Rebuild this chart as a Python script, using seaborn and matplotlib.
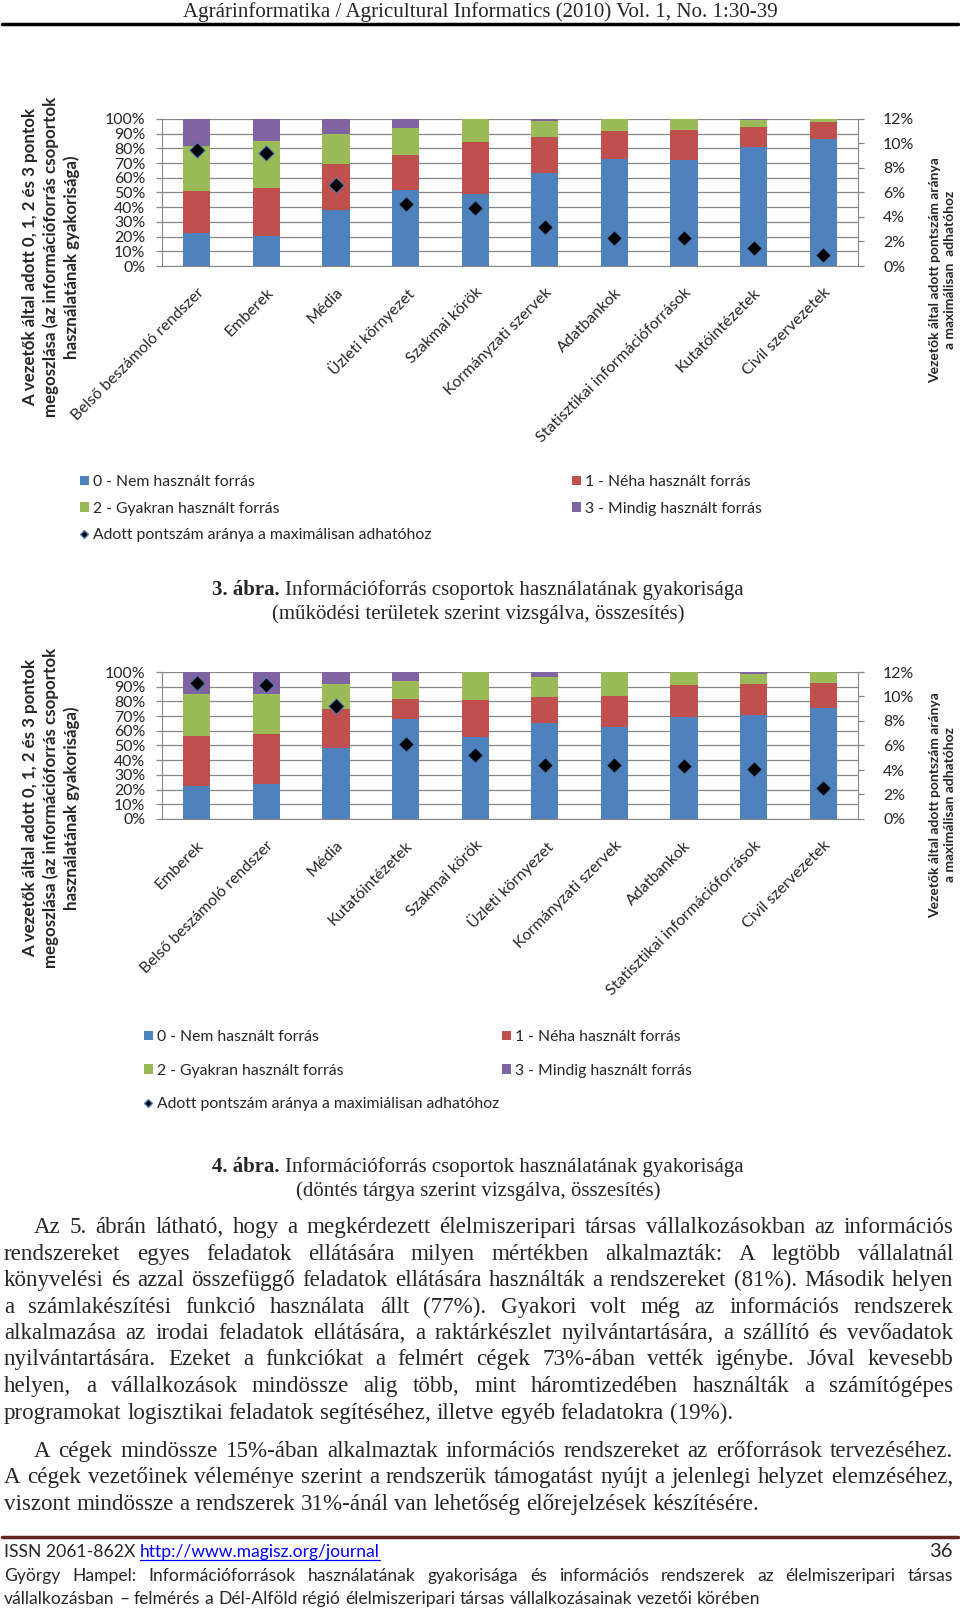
import numpy as np
import pandas as pd
import matplotlib
matplotlib.use('Agg')
import matplotlib.pyplot as plt
import seaborn as sns
from matplotlib.transforms import Affine2D
from matplotlib.patches import Patch
from matplotlib.lines import Line2D

# 3. ábra - működési területek szerint
cats1 = ['Belső beszámoló rendszer', 'Emberek', 'Média', 'Üzleti környezet', 'Szakmai körök',
         'Kormányzati szervek', 'Adatbankok', 'Statisztikai információforrások',
         'Kutatóintézetek', 'Civil szervezetek']
nem1 = [22.7, 20.5, 38.2, 51.8, 49.0, 63.6, 72.7, 72.3, 80.7, 86.4]
neha1 = [28.0, 32.5, 31.3, 23.4, 35.3, 24.1, 18.9, 20.4, 13.8, 11.8]
gyakran1 = [30.7, 32.2, 20.3, 18.7, 15.7, 10.7, 8.4, 7.3, 4.5, 1.8]
mindig1 = [18.6, 14.8, 10.2, 6.1, 0.0, 1.6, 0.0, 0.0, 1.0, 0.0]
pont1 = [9.5, 9.2, 6.6, 5.1, 4.7, 3.2, 2.3, 2.25, 1.5, 0.9]

# 4. ábra - döntés tárgya szerint
cats2 = ['Emberek', 'Belső beszámoló rendszer', 'Média', 'Kutatóintézetek', 'Szakmai körök',
         'Üzleti környezet', 'Kormányzati szervek', 'Adatbankok',
         'Statisztikai információforrások', 'Civil szervezetek']
nem2 = [22.7, 23.9, 48.4, 68.2, 56.1, 65.2, 62.5, 69.3, 70.9, 75.7]
neha2 = [34.1, 34.1, 26.6, 13.6, 25.0, 17.8, 21.1, 22.1, 21.1, 16.8]
gyakran2 = [28.4, 27.2, 16.6, 11.8, 18.9, 13.6, 16.4, 8.6, 6.9, 7.5]
mindig2 = [14.8, 14.8, 8.4, 6.4, 0.0, 3.4, 0.0, 0.0, 1.1, 0.0]
pont2 = [11.1, 10.9, 9.2, 6.1, 5.2, 4.4, 4.4, 4.3, 4.1, 2.5]

series_names = ['0 - Nem használt forrás', '1 - Néha használt forrás',
                '2 - Gyakran használt forrás', '3 - Mindig használt forrás']
colors = ['#4F81BD', '#C0504D', '#9BBB59', '#8064A2']
grey = '#868686'

body1 = ["Az 5. ábrán látható, hogy a megkérdezett élelmiszeripari társas vállalkozásokban az információs",
         "rendszereket egyes feladatok ellátására milyen mértékben alkalmazták: A legtöbb vállalatnál",
         "könyvelési és azzal összefüggő feladatok ellátására használták a rendszereket (81%). Második helyen",
         "a számlakészítési funkció használata állt (77%). Gyakori volt még az információs rendszerek",
         "alkalmazása az irodai feladatok ellátására, a raktárkészlet nyilvántartására, a szállító és vevőadatok",
         "nyilvántartására. Ezeket a funkciókat a felmért cégek 73%-ában vették igénybe. Jóval kevesebb",
         "helyen, a vállalkozások mindössze alig több, mint háromtizedében használták a számítógépes",
         "programokat logisztikai feladatok segítéséhez, illetve egyéb feladatokra (19%)."]
body2 = ["A cégek mindössze 15%-ában alkalmaztak információs rendszereket az erőforrások tervezéséhez.",
         "A cégek vezetőinek véleménye szerint a rendszerük támogatást nyújt a jelenlegi helyzet elemzéséhez,",
         "viszont mindössze a rendszerek 31%-ánál van lehetőség előrejelzések készítésére."]

sns.set_style('white')
sans = ['Lato', 'DejaVu Sans']
serif = ['Liberation Serif', 'DejaVu Serif']
plt.rcParams['font.family'] = sans

W, H = 960, 1610
fig = plt.figure(figsize=(W / 100, H / 100), dpi=100)
px = Affine2D().scale(1 / W, -1 / H).translate(0, 1) + fig.transFigure
renderer = fig.canvas.get_renderer()


def text_w(s, **kw):
    t = fig.text(0, 0, s, **kw)
    w = t.get_window_extent(renderer).width
    t.remove()
    return w


def fit(s, width, **kw):
    return 12 * width / text_w(s, fontsize=12, **kw)


def put(x, y, s, **kw):
    return fig.text(x, y, s, transform=px, **kw)


def justify(line, x0, x1, y, size, family, last=False):
    words = line.split()
    ws = [text_w(w, fontsize=size, family=family) for w in words]
    if last or len(words) < 2:
        gap = text_w('a a', fontsize=size, family=family) - 2 * text_w('a', fontsize=size, family=family)
    else:
        gap = (x1 - x0 - sum(ws)) / (len(words) - 1)
    x = x0
    for w, wd in zip(words, ws):
        put(x, y, w, fontsize=size, family=family, va='baseline')
        x += wd + gap


tick_size = fit('Statisztikai információforrások', 210)
lab_size = fit('A vezetők által adott 0, 1, 2 és 3 pontok', 296, fontweight='bold')
rlab_size = fit('Vezetők által adott pontszám aránya', 224, fontweight='bold')
leg_size = fit('Adott pontszám aránya a maximálisan adhatóhoz', 335)


def draw_chart(top_px, cats, layers, pont, right_label, ylab_c, rlab_c):
    n = len(cats)
    ax = fig.add_axes([162 / W, 1 - (top_px + 147) / H, 696 / W, 147 / H])
    cum = np.zeros(n)
    tops = []
    for vals in layers:
        cum = cum + np.array(vals)
        tops.append(cum.copy())
    for top, col in reversed(list(zip(tops, colors))):
        sns.barplot(x=cats, y=top, order=cats, color=col, saturation=1, width=0.39,
                    errorbar=None, linewidth=0, zorder=2, ax=ax)
    ax.set_ylim(0, 100)
    ax.set_xlim(-0.5, n - 0.5)
    ax.set_yticks(np.arange(0, 101, 10))
    ax.set_yticklabels([f'{v}%' for v in range(0, 101, 10)], fontsize=tick_size)
    ax.yaxis.grid(True, color=grey, lw=0.9)
    ax.set_axisbelow(True)
    ax.set_xticks(range(n))
    ax.set_xticklabels(cats, rotation=45, ha='right', rotation_mode='anchor', fontsize=tick_size)
    ax.set_xticks(np.arange(-0.5, n), minor=True)
    ax.tick_params(axis='x', which='major', length=0, pad=14)
    ax.tick_params(axis='x', which='minor', length=5, color=grey, width=0.9)
    ax.tick_params(axis='y', length=4, color=grey, width=0.9, pad=8)
    ax.set_xlabel('')
    ax.set_ylabel('')
    for s in ['left', 'bottom']:
        ax.spines[s].set_color(grey)
    ax.spines['top'].set_visible(False)
    ax.spines['right'].set_visible(False)

    ax2 = ax.twinx()
    sns.scatterplot(x=np.arange(n), y=pont, marker='D', s=62, color='black',
                    edgecolor='#4F81BD', linewidth=0.7, zorder=5, legend=False, ax=ax2)
    ax2.set_ylim(0, 12)
    ax2.set_xlim(-0.5, n - 0.5)
    ax2.set_yticks(np.arange(0, 13, 2))
    ax2.set_yticklabels([f'{v}%' for v in range(0, 13, 2)], fontsize=tick_size)
    ax2.tick_params(axis='y', length=4, color=grey, width=0.9, pad=14)
    for s in ['left', 'top', 'bottom']:
        ax2.spines[s].set_visible(False)
    ax2.spines['right'].set_color(grey)

    put(51, ylab_c, 'A vezetők által adott 0, 1, 2 és 3 pontok\nmegoszlása (az információforrás csoportok\n'
        'használatának gyakorisága)', rotation=90, ha='center', va='center', multialignment='center',
        fontsize=lab_size, fontweight='bold', linespacing=1.3)
    put(943, rlab_c, right_label, rotation=90, ha='center', va='center', multialignment='center',
        fontsize=rlab_size, fontweight='bold', linespacing=1.3)


def draw_legend(xl, xr, top, spacing, diamond_label):
    sq = [Patch(facecolor=c, edgecolor='none') for c in colors]
    dm = Line2D([], [], marker='D', linestyle='none', color='black', markeredgecolor='#4F81BD',
                markersize=4.5)
    kw = dict(loc='upper left', frameon=False, fontsize=leg_size, handlelength=0.55,
              handleheight=0.55, handletextpad=0.3, borderpad=0, borderaxespad=0,
              labelspacing=spacing, bbox_transform=px)
    fig.legend([sq[0], sq[2], dm], [series_names[0], series_names[2], diamond_label],
               bbox_to_anchor=(xl, top), **kw)
    fig.legend([sq[1], sq[3]], [series_names[1], series_names[3]],
               bbox_to_anchor=(xr, top), **kw)


draw_chart(119, cats1, [nem1, neha1, gyakran1, mindig1], pont1,
           'Vezetők által adott pontszám aránya\na maximálisan  adhatóhoz', 257, 270)
draw_legend(80, 572, 475, 0.8, 'Adott pontszám aránya a maximálisan adhatóhoz')

draw_chart(672, cats2, [nem2, neha2, gyakran2, mindig2], pont2,
           'Vezetők által adott pontszám aránya\na maximálisan adhatóhoz', 808, 805)
draw_legend(144, 502, 1030, 1.25, 'Adott pontszám aránya a maximiálisan adhatóhoz')

# header
head = 'Agrárinformatika / Agricultural Informatics (2010) Vol. 1, No. 1:30-39'
put(480, 17, head, ha='center', va='baseline', family=serif, fontsize=fit(head, 595, family=serif))
fig.add_artist(Line2D([2, 958], [24, 24], transform=px, color='black', lw=2.5))

# captions
cap_size = fit('(működési területek szerint vizsgálva, összesítés)', 411, family=serif)


def caption(num, l1, l2, y):
    b = num + ' '
    wb = text_w(b, fontsize=cap_size, family=serif, fontweight='bold')
    wr = text_w(l1, fontsize=cap_size, family=serif)
    x0 = 478 - (wb + wr) / 2
    put(x0, y, b, fontsize=cap_size, family=serif, fontweight='bold', va='baseline')
    put(x0 + wb, y, l1, fontsize=cap_size, family=serif, va='baseline')
    put(478, y + 24, l2, fontsize=cap_size, family=serif, ha='center', va='baseline')


caption('3. ábra.', 'Információforrás csoportok használatának gyakorisága',
        '(működési területek szerint vizsgálva, összesítés)', 595)
caption('4. ábra.', 'Információforrás csoportok használatának gyakorisága',
        '(döntés tárgya szerint vizsgálva, összesítés)', 1172)

# body text
body_size = fit(body1[-1], 728, family=serif)
ys = [1233, 1260, 1286, 1313, 1339, 1365, 1392, 1419]
for i, (line, y) in enumerate(zip(body1, ys)):
    justify(line, 34 if i == 0 else 4, 953, y, body_size, serif, last=(i == len(body1) - 1))
ys = [1457, 1483, 1510]
for i, (line, y) in enumerate(zip(body2, ys)):
    justify(line, 34 if i == 0 else 4, 953, y, body_size, serif, last=(i == len(body2) - 1))

# footer
fig.add_artist(Line2D([2, 958], [1537, 1537], transform=px, color='#632523', lw=2.5))
foot_last = 'vállalkozásban – felmérés a Dél-Alföld régió élelmiszeripari társas vállalkozásainak vezetői körében'
foot_size = fit(foot_last, 753)
issn = 'ISSN 2061-862X '
w_issn = text_w(issn, fontsize=foot_size)
link = 'http://www.magisz.org/journal'
w_link = text_w(link, fontsize=foot_size)
put(4, 1557, issn, fontsize=foot_size, va='baseline')
put(4 + w_issn, 1557, link, fontsize=foot_size, va='baseline', color='#0000FF')
fig.add_artist(Line2D([4 + w_issn, 4 + w_issn + w_link], [1560, 1560], transform=px, color='#0000FF', lw=0.9))
put(953, 1557, '36', fontsize=foot_size * 1.15, va='baseline', ha='right')
justify('György Hampel: Információforrások használatának gyakorisága és információs rendszerek az élelmiszeripari társas',
        4, 953, 1581, foot_size, sans)
justify(foot_last, 4, 953, 1604, foot_size, sans, last=True)

fig.savefig('out.png', dpi=100)
